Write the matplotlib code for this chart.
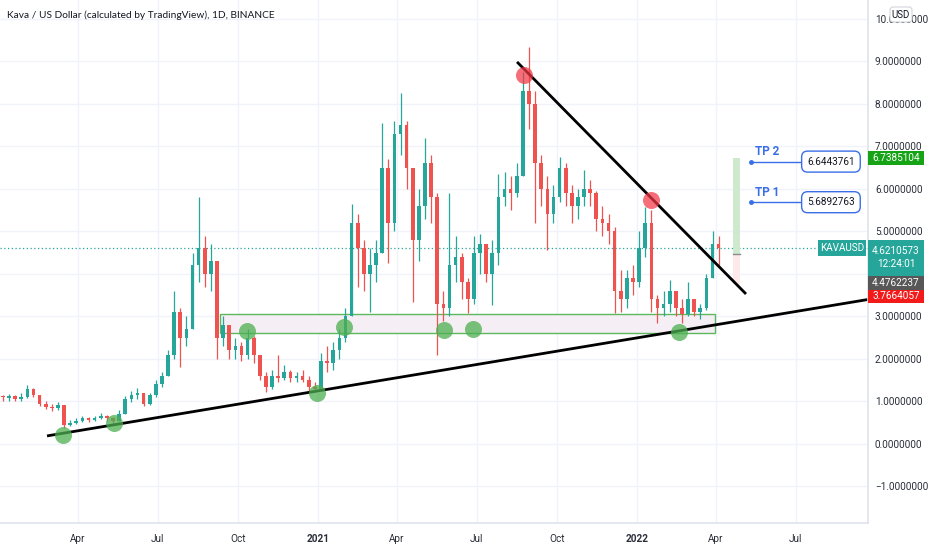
import matplotlib
matplotlib.use("Agg")
import matplotlib.pyplot as plt
from matplotlib.patches import Rectangle, FancyBboxPatch
from matplotlib.transforms import IdentityTransform
from matplotlib.ticker import FuncFormatter, FixedLocator
import numpy as np

# ---------------- data (weekly candles) ----------------
first_open = 1.10
closes = [1.08, 1.12, 1.05, 1.10, 1.30, 1.15, 0.95, 0.88, 0.85, 0.92,
          0.45, 0.50, 0.55, 0.60, 0.57, 0.60, 0.65, 0.60, 0.55, 0.70,
          1.05, 1.15, 1.20, 0.95, 1.15, 1.40, 1.60, 2.10, 3.10, 2.50,
          2.70, 4.20, 4.60, 4.00, 4.30, 2.50, 2.80, 2.20, 2.30, 2.10,
          2.50, 2.10, 1.60, 1.35, 1.60, 1.55, 1.70, 1.55, 1.60, 1.50,
          1.35, 1.30, 1.95, 1.90, 2.20, 2.50, 3.00, 5.20, 4.60, 4.00,
          4.20, 4.50, 6.50, 5.20, 7.30, 7.50, 6.50, 4.80, 5.60, 6.60,
          5.80, 3.30, 3.20, 4.20, 4.40, 3.80, 3.40, 4.50, 4.70, 4.00,
          4.50, 5.80, 6.00, 5.90, 6.30, 8.30, 8.00, 6.60, 6.00, 5.40,
          5.80, 6.50, 5.90, 5.60, 5.80, 6.00, 5.90, 5.30, 5.20, 5.00,
          3.60, 3.40, 3.90, 3.80, 4.60, 5.20, 3.40, 3.20, 3.30, 3.60,
          3.20, 3.05, 3.40, 3.10, 3.20, 3.90, 4.70, 4.62]
highs = [1.15, 1.18, 1.15, 1.20, 1.38, 1.32, 1.15, 1.00, 0.95, 0.98,
         0.92, 0.56, 0.60, 0.66, 0.64, 0.65, 0.72, 0.68, 0.63, 0.80,
         1.12, 1.25, 1.32, 1.20, 1.20, 1.50, 1.70, 2.20, 3.60, 3.20,
         3.00, 4.50, 5.80, 4.90, 4.70, 4.30, 3.00, 2.80, 2.50, 2.40,
         2.70, 2.55, 2.10, 1.70, 1.75, 2.10, 1.85, 1.75, 1.70, 1.75,
         1.60, 1.45, 2.15, 2.30, 2.40, 2.70, 3.20, 5.65, 5.40, 4.80,
         4.60, 4.80, 7.55, 6.70, 7.60, 8.26, 7.60, 6.40, 6.00, 7.20,
         6.80, 5.90, 3.60, 5.90, 4.90, 4.50, 3.90, 4.90, 4.95, 4.60,
         4.80, 6.35, 6.40, 6.30, 6.60, 8.75, 9.34, 8.30, 6.80, 6.30,
         6.10, 6.75, 6.60, 6.10, 6.00, 6.45, 6.20, 5.95, 5.60, 5.40,
         5.10, 4.10, 4.10, 4.20, 5.00, 5.57, 5.50, 3.50, 3.60, 3.86,
         3.60, 3.40, 3.80, 3.40, 3.30, 4.00, 5.00, 4.90]
lows = [1.00, 1.02, 1.00, 1.02, 1.08, 1.10, 0.90, 0.82, 0.78, 0.80,
        0.38, 0.42, 0.47, 0.52, 0.52, 0.54, 0.58, 0.55, 0.50, 0.55,
        0.70, 0.98, 1.05, 0.90, 0.92, 1.10, 1.35, 1.60, 2.00, 1.80,
        2.30, 2.70, 3.80, 3.70, 3.60, 2.00, 2.30, 2.00, 2.00, 1.95,
        2.00, 1.90, 1.50, 1.22, 1.30, 1.45, 1.50, 1.45, 1.45, 1.45,
        1.25, 1.22, 1.30, 1.70, 1.75, 2.00, 2.40, 3.00, 3.70, 3.60,
        3.10, 3.80, 4.50, 4.26, 5.00, 6.80, 6.00, 3.34, 4.30, 5.30,
        5.20, 2.10, 2.90, 3.00, 3.80, 3.40, 3.08, 3.30, 4.00, 3.80,
        3.27, 4.20, 5.60, 5.50, 5.80, 6.30, 7.40, 5.20, 5.60, 4.56,
        5.20, 5.70, 5.60, 5.20, 5.30, 5.60, 5.60, 5.00, 4.90, 4.70,
        3.08, 3.10, 3.20, 3.50, 3.70, 4.40, 3.10, 2.85, 3.00, 3.10,
        3.00, 2.85, 3.00, 3.00, 2.95, 3.15, 3.90, 4.20]
first_week_day = 5          # days since 2020-01-01 of first candle centre
week_len = 7

tick_days = [91, 182, 274, 366, 456, 547, 639, 731, 821, 912]
tick_labels = ["Apr", "Jul", "Oct", "2021", "Apr", "Jul", "Oct", "2022", "Apr", "Jul"]
year_labels = ["2021", "2022"]
price_ticks = [-1, 0, 1, 2, 3, 4, 5, 6, 7, 8, 9, 10]
hidden_price_ticks = [4]     # covered by the price labels in the reference

support_days = [55.5, 994.9]
support_vals = [0.19, 3.40]
resist_days = [593.3, 855.3]
resist_vals = [8.99, 3.53]
zone_days = [253.4, 819.8]
zone_vals = [2.60, 3.06]
green_days = [73.8, 132.1, 284.3, 364.4, 395.3, 509.7, 542.9, 778.6]
green_vals = [0.21, 0.49, 2.66, 1.20, 2.75, 2.68, 2.70, 2.64]
red_days = [601.3, 746.6]
red_vals = [8.68, 5.74]

last_price = 4.6210573
entry_price = 4.4762237
target_price = 6.7385104
stop_price = 3.7664057
position_days = [840.4, 848.4]
tp_names = ["TP 1", "TP 2"]
tp_vals = [5.6892763, 6.6443761]
tp_start_day = 861.0
tp_end_day = 918.0
tp_box_day = 952.5
countdown = "12:24:01"
symbol = "KAVAUSD"
title = "Kava / US Dollar (calculated by TradingView), 1D, BINANCE"

# ---------------- figure ----------------
W, H = 932, 550
fig = plt.figure(figsize=(W / 100, H / 100), dpi=100)
fig.patch.set_facecolor("white")
ax = fig.add_axes([0, 27 / H, 868 / W, 523 / H])
ax.set_xlim(1.7, 994.9)
ax.set_ylim(-1.859, 10.447)

FONT = ["Roboto", "DejaVu Sans"]
TXT = "#2a2e39"
UP, DOWN = "#26a69a", "#ef5350"
LFS = 7.2

for s in ax.spines.values():
    s.set_visible(False)
ax.axhline(ax.get_ylim()[0], color="#e0e3eb", lw=1.2, zorder=5, clip_on=False)
ax.axvline(ax.get_xlim()[1], color="#e0e3eb", lw=1.2, zorder=5, clip_on=False)

# grid
for v in price_ticks:
    ax.axhline(v, color="#f0f3fa", lw=1.0, zorder=0)
for d in tick_days:
    ax.axvline(d, color="#f0f3fa", lw=1.0, zorder=0)


def fmt_price(v, p):
    if int(round(v)) in hidden_price_ticks:
        return ""
    return ("\u2212" if v < 0 else "") + "%.7f" % abs(v)


# ticks
ax.yaxis.tick_right()
ax.yaxis.set_major_locator(FixedLocator(price_ticks))
ax.yaxis.set_major_formatter(FuncFormatter(fmt_price))
ax.tick_params(axis="y", length=0, pad=5, labelsize=LFS, labelcolor=TXT)
ax.set_xticks(tick_days)
ax.set_xticklabels(tick_labels)
ax.tick_params(axis="x", length=0, pad=8, labelsize=LFS, labelcolor=TXT)
for lab in ax.get_yticklabels() + ax.get_xticklabels():
    lab.set_family(FONT)
    if lab.get_text() in year_labels:
        lab.set_fontweight("bold")

# candles
n = len(closes)
xs = np.array([first_week_day + week_len * i for i in range(n)], dtype=float)
opens = np.array([first_open] + closes[:-1])
cl = np.array(closes)
hi = np.maximum(np.array(highs), np.maximum(opens, cl))
lo = np.minimum(np.array(lows), np.minimum(opens, cl))
cols = np.where(cl >= opens, UP, DOWN)
ax.vlines(xs, lo, hi, colors=cols, lw=0.9, zorder=2)
body = cl - opens
body = np.where(np.abs(body) < 0.03, 0.03, body)
ax.bar(xs, body, bottom=opens, width=4.2, color=cols, lw=0, zorder=2)

# last price dotted line
ax.axhline(last_price, color=UP, lw=0.9, ls=(0, (1, 2)), zorder=1)

# support zone
ax.add_patch(Rectangle((zone_days[0], zone_vals[0]), zone_days[1] - zone_days[0],
                       zone_vals[1] - zone_vals[0], facecolor="#f6eef5",
                       edgecolor="#5cb85c", lw=1.0, zorder=1.5))

# trend lines
ax.plot(support_days, support_vals, color="black", lw=2.0, zorder=4,
        solid_capstyle="butt")
ax.plot(resist_days, resist_vals, color="black", lw=2.0, zorder=4,
        solid_capstyle="butt")

# circles
ax.scatter(green_days, green_vals, s=150, color="#4caf50", alpha=0.75,
           lw=0, zorder=6)
ax.scatter(red_days, red_vals, s=150, color="#f23645", alpha=0.72,
           lw=0, zorder=6)

# long position tool
ax.add_patch(Rectangle((position_days[0], entry_price),
                       position_days[1] - position_days[0],
                       target_price - entry_price, facecolor="#cfe9cf",
                       edgecolor="none", zorder=3))
ax.add_patch(Rectangle((position_days[0], stop_price),
                       position_days[1] - position_days[0],
                       entry_price - stop_price, facecolor="#fde8ea",
                       edgecolor="none", zorder=3))
ax.plot(position_days, [entry_price, entry_price], color="#8a8a8a", lw=1.0,
        zorder=3.5)

# TP lines
BLUE = "#3a6ee8"
for name, v in zip(tp_names, tp_vals):
    ax.plot([tp_start_day, tp_end_day], [v, v], color=BLUE, lw=1.0, zorder=5)
    ax.plot([tp_start_day], [v], "o", color=BLUE, ms=2.5, zorder=5)
    ax.text(tp_start_day + 4.5, v + 0.24, name, color=BLUE, fontsize=8.5,
            fontweight="bold", family=FONT, va="center", ha="left", zorder=6)
    ax.text(tp_box_day, v, "%.7f" % v, color="#131722", fontsize=LFS,
            family=FONT, va="center", ha="center", zorder=6,
            bbox=dict(boxstyle="round,pad=0.55,rounding_size=0.6",
                      fc="white", ec=BLUE, lw=1.0))

# title
fig.text(7 / W, 1 - 15 / H, title, fontsize=7.3, color="#131722",
         family=["Lato", "DejaVu Sans"], va="center", ha="left")

# --------------- right-axis boxes (display px) ---------------
fig.canvas.draw()


def ydisp(v):
    return ax.transData.transform((0, v))[1]


def pbox(x0, x1, ytop, h, fc, text, tc="white", fs=LFS):
    fig.add_artist(Rectangle((x0, ytop - h), x1 - x0, h, facecolor=fc,
                             edgecolor="none", transform=IdentityTransform(),
                             zorder=10))
    fig.text((x0 + x1) / 2 / W, (ytop - h / 2) / H, text, color=tc,
             fontsize=fs, family=FONT, ha="center", va="center", zorder=11,
             linespacing=1.35)


yt = ydisp(target_price)
pbox(868, 924, yt + 7, 14, "#16a316", "%.7f" % target_price)
yl = ydisp(last_price)
pbox(818, 866, yl + 8, 16, UP, symbol)
pbox(868, 924, yl + 8, 36, UP, "%.7f\n%s" % (last_price, countdown))
gtop = yl + 8 - 36
pbox(868, 924, gtop, 14, "#575757", "%.7f" % entry_price)
pbox(868, 924, gtop - 14, 13, "#f31a1a", "%.7f" % stop_price)

# USD box
fig.add_artist(FancyBboxPatch((890, H - 22), 22, 15,
                              boxstyle="round,pad=0,rounding_size=3",
                              facecolor="white", edgecolor="#d1d4dc", lw=0.8,
                              transform=IdentityTransform(), zorder=10))
fig.text(901 / W, 1 - 14.5 / H, "USD", fontsize=7, color="#131722",
         family=FONT, ha="center", va="center", zorder=11)

fig.savefig("out.png", dpi=100, facecolor="white")
